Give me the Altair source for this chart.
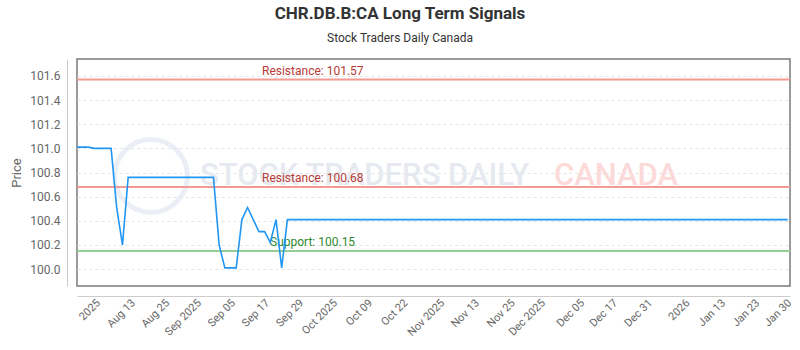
import json
import altair as alt
import pandas as pd

# ---- data ----
# trading-day index of each vertex of the price line and its price
day_idx = [0, 2, 3, 6, 7, 8, 9, 24, 25, 26, 28, 29, 30, 32, 33, 34, 35, 36, 37, 125]
price = [101.01, 101.01, 101.00, 101.00, 100.50, 100.20, 100.76, 100.76, 100.20, 100.01,
         100.01, 100.41, 100.51, 100.31, 100.31, 100.22, 100.41, 100.01, 100.41, 100.41]

level_names = ["Resistance", "Resistance", "Support"]
level_values = [101.57, 100.68, 100.15]

tick_pos = [3.75, 9.9, 15.9, 21.5, 27.5, 33.5, 39.5, 45.4, 51.6, 57.8, 64.3, 70.4,
            76.7, 82.0, 88.9, 94.7, 100.8, 107.4, 113.7, 119.7, 125.3]
tick_labels = ["2025", "Aug 13", "Aug 25", "Sep 2025", "Sep 05", "Sep 17", "Sep 29",
               "Oct 2025", "Oct 09", "Oct 22", "Nov 2025", "Nov 13", "Nov 25", "Dec 2025",
               "Dec 05", "Dec 17", "Dec 31", "2026", "Jan 13", "Jan 23", "Jan 30"]
y_ticks = [100.0, 100.2, 100.4, 100.6, 100.8, 101.0, 101.2, 101.4, 101.6]

FONT = "Roboto"
W, H = 713, 227

price_df = pd.DataFrame({"idx": day_idx, "price": price})
lvl_df = pd.DataFrame({
    "kind": level_names,
    "level": level_values,
    "label": [f"{k}: {v:.2f}" for k, v in zip(level_names, level_values)],
})
res_df = lvl_df[lvl_df.kind == "Resistance"]
sup_df = lvl_df[lvl_df.kind == "Support"]
one = pd.DataFrame({"a": [0]})

label_expr = f"{json.dumps(tick_labels)}[indexof({json.dumps(tick_pos)}, datum.value)]"

x_scale = alt.Scale(domain=[0, 125.4], nice=False, zero=False)
y_scale = alt.Scale(domain=[99.86, 101.74], nice=False, zero=False)

x_axis = alt.Axis(values=tick_pos, labelExpr=label_expr, labelAngle=-45, labelAlign="right",
                  labelBaseline="middle", labelPadding=5, ticks=False, grid=False,
                  domainColor="#cccccc", offset=10, labelFont=FONT, labelFontSize=11,
                  labelColor="#666666", title=None, labelOverlap=False, labelFlush=False,
                  labelBound=False)
y_axis = alt.Axis(values=y_ticks, format=".1f", ticks=False, grid=True, gridColor="#e4e4e4",
                  gridDash=[3, 3], domainColor="#cccccc", offset=10, labelPadding=7,
                  labelFont=FONT, labelFontSize=12, labelColor="#666666", title="Price",
                  titleFont=FONT, titleFontSize=13, titleFontWeight="normal",
                  titleColor="#666666", titlePadding=6, labelOverlap=False, labelFlush=False,
                  labelBound=False)

# watermark
wm_circle = alt.Chart(one).mark_point(shape="circle", filled=False, size=5300,
                                      stroke="#e3e9f2", strokeWidth=5).encode(
    x=alt.value(74), y=alt.value(117))
wm_text1 = alt.Chart(one).mark_text(text="STOCK TRADERS DAILY", font=FONT, fontSize=31,
                                    fontWeight=500, color="#e6eaf0", align="left",
                                    baseline="middle").encode(
    x=alt.value(123), y=alt.value(117))
wm_text2 = alt.Chart(one).mark_text(text="CANADA", font=FONT, fontSize=31, fontWeight=500,
                                    color="#fcdada", align="left", baseline="middle").encode(
    x=alt.value(477), y=alt.value(117))

color_scale = alt.Scale(domain=["Resistance", "Support"], range=["#f29a94", "#93cf93"])

rules = alt.Chart(lvl_df).mark_rule(strokeWidth=2).encode(
    y=alt.Y("level:Q", scale=y_scale, axis=y_axis),
    color=alt.Color("kind:N", scale=color_scale, legend=None),
)
res_labels = alt.Chart(res_df).mark_text(align="left", baseline="alphabetic", dy=-5,
                                         font=FONT, fontSize=12, color="#b83a36").encode(
    y=alt.Y("level:Q", scale=y_scale, axis=y_axis),
    x=alt.value(185),
    text="label:N",
)
sup_labels = alt.Chart(sup_df).mark_text(align="left", baseline="alphabetic", dy=-5,
                                         font=FONT, fontSize=12, color="#2f8a2f").encode(
    y=alt.Y("level:Q", scale=y_scale, axis=y_axis),
    x=alt.value(193),
    text="label:N",
)

line = alt.Chart(price_df).mark_line(color="#2196f3", strokeWidth=1.6).encode(
    x=alt.X("idx:Q", scale=x_scale, axis=x_axis),
    y=alt.Y("price:Q", scale=y_scale, axis=y_axis),
)

chart = alt.layer(wm_circle, wm_text1, wm_text2, rules, res_labels, sup_labels,
                  line).properties(
    width=W, height=H,
    autosize=alt.AutoSizeParams(type="none"),
    padding={"left": 77, "top": 59, "right": 10, "bottom": 64},
    title=alt.TitleParams(text="CHR.DB.B:CA Long Term Signals",
                          subtitle="Stock Traders Daily Canada",
                          anchor="middle", dx=-33.5, offset=14,
                          font=FONT, fontSize=17, fontWeight="bold", color="#333333",
                          subtitleFont=FONT, subtitleFontSize=12, subtitleColor="#333333",
                          subtitlePadding=10),
).configure_view(stroke="#7a7a7a", strokeWidth=1.5).configure_axis(labelOverlap=False)

chart.save("out.html", embed_options={"renderer": "svg", "actions": False})
